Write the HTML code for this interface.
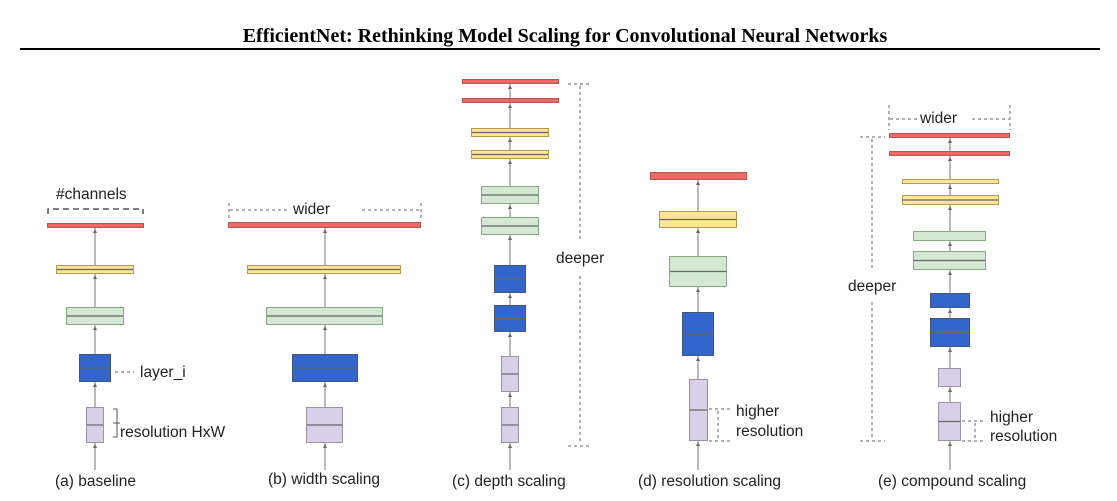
<!DOCTYPE html>
<html><head><meta charset="utf-8"><style>
html,body{margin:0;padding:0;background:#fff;}
svg{display:block;}
text{font-family:"Liberation Sans",sans-serif;fill:#222;}
</style></head><body>
<svg id="fig" width="1117" height="501" viewBox="0 0 1117 501">
<text x="565" y="42" text-anchor="middle" style="font-family:'Liberation Serif',serif;font-weight:bold;font-size:20px;fill:#000">EfficientNet: Rethinking Model Scaling for Convolutional Neural Networks</text>
<rect x="20" y="48" width="1080" height="2" fill="#000"/>
<g id="layers"></g>
<g stroke="#666" stroke-dasharray="3,3" fill="none" stroke-width="1">
  <path d="M48 214 V209 H143 V214" stroke-dasharray="6,4" stroke-width="1.5" stroke="#555"/>
  <path d="M229 203 V218 M421 203 V218 M230 210 H290 M362 210 H420"/>
  <path d="M568 84 H590 M568 446 H590 M580 86 V240 M580 276 V444"/>
  <path d="M709 409 H730 M709 441 H730 M718 411 V439"/>
  <path d="M889 105 V130 M1010 105 V130 M890 119 H918 M972 119 H1009"/>
  <path d="M860 137 H885 M860 441 H885 M872 139 V270 M872 302 V439"/>
  <path d="M962 421 H985 M962 441 H985 M975 423 V439"/>
  <path d="M115 372 H134"/>
</g>
<path d="M113 409 h4 v14 h-4 M117 423 h3 M113 437 h4 v-14" stroke="#555" fill="none"/>
<g font-size="15.5">
  <text x="56" y="199">#channels</text>
  <text x="140" y="377">layer_i</text>
  <text x="120" y="437">resolution HxW</text>
  <text x="293" y="214">wider</text>
  <text x="556" y="263">deeper</text>
  <text x="736" y="416">higher</text>
  <text x="736" y="436">resolution</text>
  <text x="920" y="123">wider</text>
  <text x="848" y="291">deeper</text>
  <text x="990" y="422">higher</text>
  <text x="990" y="441">resolution</text>
  <text x="55" y="486">(a) baseline</text>
  <text x="268" y="484">(b) width scaling</text>
  <text x="452" y="486">(c) depth scaling</text>
  <text x="638" y="486">(d) resolution scaling</text>
  <text x="878" y="486">(e) compound scaling</text>
</g>
</svg>
<script>
const columns = [
  {cx:95, top:223, name:'baseline'},
  {cx:325, top:222, name:'width'},
  {cx:510, top:79, name:'depth'},
  {cx:698, top:172, name:'resolution'},
  {cx:950, top:133, name:'compound'}
];
const colors = {
  r:['#ea6b66','#b85450'], y:['#ffe599','#b59a4c'], g:['#d5e8d4','#8aa886'],
  b:['#3366cc','#445577'], p:['#d9cfe8','#9a93a8']
};
// [column, x1, x2, y1, y2, colorKey, midline]
const blocks = [
  [0,47,144,223,228,'r',0],[0,56,134,265,274,'y',1],[0,66,124,307,325,'g',1],[0,79,111,354,382,'b',1],[0,86,104,407,443,'p',1],
  [1,228,421,222,228,'r',0],[1,247,401,265,274,'y',1],[1,266,383,307,325,'g',1],[1,292,358,354,382,'b',1],[1,306,343,407,443,'p',1],
  [2,462,559,79,84,'r',0],[2,462,559,98,103,'r',0],[2,471,549,128,137,'y',1],[2,471,549,150,159,'y',1],[2,481,539,186,204,'g',1],[2,481,539,217,235,'g',1],[2,494,526,265,293,'b',1],[2,494,526,305,332,'b',1],[2,501,519,356,392,'p',1],[2,501,519,407,443,'p',1],
  [3,650,747,172,180,'r',0],[3,659,737,211,228,'y',1],[3,669,727,256,287,'g',1],[3,682,714,312,356,'b',1],[3,689,708,379,441,'p',1],
  [4,889,1010,133,138,'r',0],[4,889,1010,151,156,'r',0],[4,902,999,179,184,'y',0],[4,902,999,195,205,'y',1],[4,913,986,231,241,'g',0],[4,913,986,251,270,'g',1],[4,930,970,293,308,'b',0],[4,930,970,318,347,'b',1],[4,938,961,368,387,'p',0],[4,938,961,402,441,'p',1]
];
const NS='http://www.w3.org/2000/svg';
const g=document.getElementById('layers');
function mk(tag,attrs){const e=document.createElementNS(NS,tag);for(const k in attrs)e.setAttribute(k,attrs[k]);g.appendChild(e);return e;}
columns.forEach((c,i)=>{
  const l=mk('line',{x1:c.cx,x2:c.cx,y1:470,y2:c.top,stroke:'#777','stroke-width':1});
  
  
});
blocks.forEach((b,i)=>{
  const [ci,x1,x2,y1,y2,k,mid]=b;
  const cx=columns[ci].cx;
  const r=mk('rect',{x:x1+0.5,y:y1+0.5,width:x2-x1-1,height:y2-y1-1,fill:colors[k][0],stroke:colors[k][1],'stroke-width':1});
  
  
  if(mid){const m=(y1+y2)/2;const ln=mk('line',{x1:x1+1,x2:x2-1,y1:m,y2:m,stroke:'#666','stroke-width':1.2});
    
    }
  const a=mk('path',{d:`M${cx-2} ${y2+5} L${cx} ${y2+1} L${cx+2} ${y2+5} Z`,fill:'#666'});
  
  
});
</script>
</body></html>
